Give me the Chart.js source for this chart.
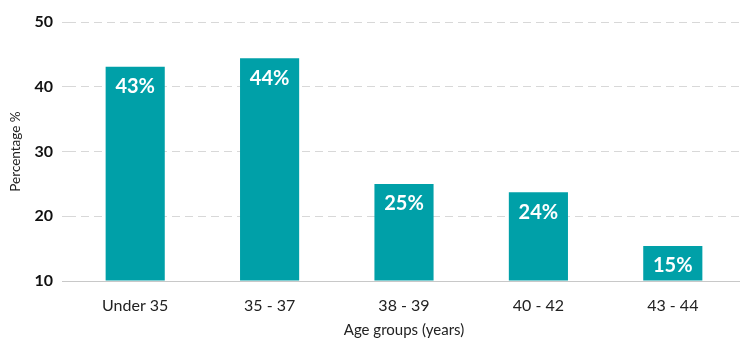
<!DOCTYPE html>
<html lang="en">
<head>
  <meta charset="UTF-8">
  <title>Age groups</title>
  <script src="https://cdn.jsdelivr.net/npm/chart.js"></script>
  <style>
    html, body { margin: 0; padding: 0; background: #fff; }
    #wrap { width: 751px; height: 343px; }
  </style>
</head>
<body>
<div id="wrap">
  <canvas id="ageChart"></canvas>
</div>

<script>
  const ageGroups = ['Under 35', '35 - 37', '38 - 39', '40 - 42', '43 - 44'];
  const percentages = [43.1, 44.4, 25.0, 23.7, 15.4];
  const yTicks = [10, 20, 30, 40, 50];

  const teal = '#00A0A8';
  const fontName = 'Lato';

  // white % labels near the top of each bar
  const barLabels = {
    id: 'barLabels',
    afterDatasetsDraw(chart) {
      const ctx = chart.ctx;
      const meta = chart.getDatasetMeta(0);
      ctx.save();
      ctx.fillStyle = '#fff';
      ctx.font = 'bold 20px ' + fontName;
      ctx.textAlign = 'center';
      ctx.textBaseline = 'middle';
      meta.data.forEach((bar, i) => {
        ctx.fillText(Math.round(percentages[i]) + '%', bar.x, bar.y + 20);
      });
      ctx.restore();
    }
  };

  const ctx = document.getElementById('ageChart').getContext('2d');

  const ageChart = new Chart(ctx, {
    type: 'bar',
    data: {
      labels: ageGroups,
      datasets: [{
        data: percentages,
        base: yTicks[0],
        backgroundColor: teal,
        barPercentage: 0.44,
        categoryPercentage: 1
      }]
    },
    options: {
      responsive: true,
      maintainAspectRatio: false,
      animation: false,
      layout: { padding: { top: 22, right: 11, left: 0, bottom: 0 } },
      plugins: {
        legend: { display: false },
        tooltip: { enabled: false }
      },
      scales: {
        x: {
          grid: { display: false },
          border: { display: false },
          ticks: {
            color: '#222',
            padding: 7,
            font: { family: fontName, size: 16 }
          },
          title: {
            display: true,
            text: 'Age groups (years)',
            color: '#222',
            padding: { top: 2 },
            font: { family: fontName, size: 15 }
          },
          afterFit: s => { s.height = 62; }
        },
        y: {
          min: 10,
          max: 50,
          afterBuildTicks: s => { s.ticks = yTicks.map(v => ({ value: v })); },
          grid: {
            color: ctx => ctx.tick && ctx.tick.value === 10 ? '#c8c8c8' : '#d8d8d8',
            lineWidth: 1,
            drawTicks: true,
            tickLength: 6
          },
          border: {
            display: false,
            dash: ctx => ctx.tick && ctx.tick.value === 10 ? [] : [8, 5]
          },
          ticks: {
            color: '#111',
            padding: 9,
            font: { family: fontName, size: 16, weight: 'bold' }
          },
          title: {
            display: true,
            text: 'Percentage %',
            color: '#222',
            padding: { top: 8, bottom: 2 },
            font: { family: fontName, size: 13.5 }
          },
          afterFit: s => { s.width = 68; }
        }
      }
    },
    plugins: [barLabels]
  });
</script>
</body>
</html>
